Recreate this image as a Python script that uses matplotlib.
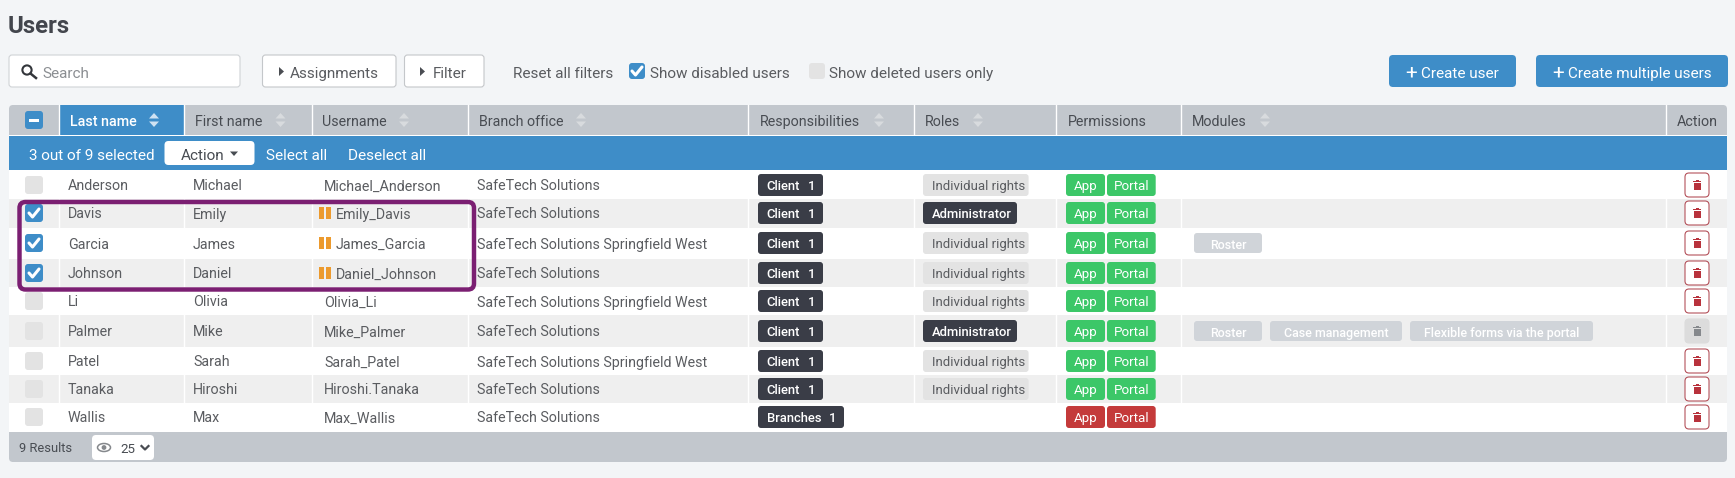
import matplotlib
matplotlib.use("Agg")
import matplotlib.pyplot as plt
from matplotlib.patches import FancyBboxPatch, Rectangle, Circle, Polygon, Ellipse

plt.rcParams["font.family"] = ["Roboto", "DejaVu Sans"]

# table content
headers = ["Last name", "First name", "Username", "Branch office", "Responsibilities",
           "Roles", "Permissions", "Modules", "Action"]
last_names = ["Anderson", "Davis", "Garcia", "Johnson", "Li", "Palmer", "Patel", "Tanaka", "Wallis"]
first_names = ["Michael", "Emily", "James", "Daniel", "Olivia", "Mike", "Sarah", "Hiroshi", "Max"]
usernames = ["Michael_Anderson", "Emily_Davis", "James_Garcia", "Daniel_Johnson", "Olivia_Li",
             "Mike_Palmer", "Sarah_Patel", "Hiroshi.Tanaka", "Max_Wallis"]
west = "SafeTech Solutions Springfield West"
plain = "SafeTech Solutions"
branches = [plain, plain, west, plain, west, plain, west, plain, plain]
responsibilities = ["Client"] * 8 + ["Branches"]
resp_counts = ["1"] * 9
rights = "Individual rights"
roles = [rights, "Administrator", rights, rights, rights, "Administrator", rights, rights, ""]
selected = [False, True, True, True, False, False, False, False, False]
blocked = [False, False, False, False, False, False, False, False, True]
locked = [False, False, False, False, False, True, False, False, False]
modules = [[], [], ["Roster"], [], [], ["Roster", "Case management", "Flexible forms via the portal"],
           [], [], []]

# layout in pixels
W, H = 1735, 478
col_seps = [59, 184, 311.5, 467.7, 748, 914, 1056, 1181, 1666]
header_x = [70, 195, 322, 479, 760, 924.5, 1068, 1192, 1676.5]
sort_x = [154, 280.5, 404, 581, 879, 978, None, 1265, None]
row_edges = [170, 199, 227.5, 259, 287, 315, 347, 375, 403, 432]
row_mid = [185, 213, 243, 273, 301, 331, 361, 389, 417]
module_spans = {"Roster": (1194, 1262), "Case management": (1270, 1402),
                "Flexible forms via the portal": (1410, 1593)}

BG = "#f3f5f7"
GREY = "#c2c7cd"
BLUE = "#3e8dc8"
ALT = "#efefef"
TXT = "#5a5c60"
HEAD = "#484c52"
DARK = "#3a3d47"
LIGHT = "#e3e3e3"
GREEN = "#3cc768"
RED = "#c43a3a"
FS = 10.25
FS_TOP = 11
FS_BADGE = 9.4

fig = plt.figure(figsize=(W / 100, H / 100), dpi=100, facecolor=BG)
ax = fig.add_axes([0, 0, 1, 1])
ax.set_xlim(0, W)
ax.set_ylim(H, 0)
ax.axis("off")


def rbox(x0, y0, x1, y1, fc, ec="none", r=3, lw=1.0, z=2):
    ax.add_patch(FancyBboxPatch((x0, y0), x1 - x0, y1 - y0, boxstyle=f"round,pad=0,rounding_size={r}",
                                fc=fc, ec=ec, lw=lw, zorder=z))


def rect(x0, y0, x1, y1, fc, z=1):
    ax.add_patch(Rectangle((x0, y0), x1 - x0, y1 - y0, fc=fc, ec="none", zorder=z))


def label(x, y, s, color=TXT, size=FS, ha="left", weight="normal"):
    ax.text(x, y, s, color=color, fontsize=size, ha=ha, va="center_baseline", fontweight=weight, zorder=6)


def sort_icon(x, y, color):
    ax.add_patch(Polygon([(x - 5, y - 1.5), (x + 5, y - 1.5), (x, y - 7)], fc=color, ec="none", zorder=5))
    ax.add_patch(Polygon([(x - 5, y + 1.5), (x + 5, y + 1.5), (x, y + 7)], fc=color, ec="none", zorder=5))


def checkbox(x0, x1, y, state):
    hh = (x1 - x0) / 2
    rbox(x0, y - hh, x1, y + hh, BLUE if state else LIGHT, r=3, z=4)
    if state:
        cx = (x0 + x1) / 2
        ax.plot([cx - 5, cx - 1.5, cx + 5], [y, y + 4, y - 4], color="white", lw=2.2, zorder=5,
                solid_capstyle="round")


def trash(y, active):
    edge = "#b4525b" if active else "#dcdcdc"
    col = "#b8323c" if active else "#85888c"
    rbox(1685, y - 12, 1709, y + 12, "white" if active else "#dcdcdc", ec=edge, r=4, lw=0.8, z=3)
    rect(1693.5, y - 2.5, 1700.5, y + 4.5, col, z=5)
    rect(1693, y - 4, 1701, y - 3, col, z=5)
    rect(1695.5, y - 5, 1698.5, y - 3.5, col, z=5)


# top bar
label(8, 24, "Users", color="#43464d", size=17.3, weight="bold")

rbox(9, 55, 240, 87, "white", ec="#d0d3d6", lw=0.8)
ax.add_patch(Circle((27, 70), 4.6, fc="none", ec="#33363b", lw=1.5, zorder=5))
ax.plot([30.5, 36], [73.5, 78], color="#33363b", lw=1.8, zorder=5)
label(42, 72, "Search", color="#8b8e92", size=FS_TOP)

rbox(262.5, 55, 396, 87, "white", ec="#c4c7ca", lw=0.8)
ax.add_patch(Polygon([(279, 67), (279, 76), (284, 71.5)], fc="#4a4d52", ec="none", zorder=5))
label(290, 72, "Assignments", size=FS_TOP)
rbox(404.5, 55, 484, 87, "white", ec="#c4c7ca", lw=0.8)
ax.add_patch(Polygon([(420, 67), (420, 76), (425, 71.5)], fc="#4a4d52", ec="none", zorder=5))
label(433, 72, "Filter", size=FS_TOP)

label(513, 72, "Reset all filters", size=FS_TOP)
checkbox(629, 645, 71, True)
label(650, 72, "Show disabled users", size=FS_TOP)
checkbox(809, 825, 71, False)
label(829, 72, "Show deleted users only", size=FS_TOP)

rbox(1389, 55, 1516, 87, BLUE, r=4)
label(1405, 71, "+", color="white", size=15)
label(1421, 72, "Create user", color="white", size=FS_TOP)
rbox(1536, 55, 1728, 87, BLUE, r=4)
label(1552, 71, "+", color="white", size=15)
label(1568, 72, "Create multiple users", color="white", size=FS_TOP)

# header and footer
rbox(9, 105, 1727, 140, GREY, r=4, z=1)
rbox(9, 425, 1727, 462, GREY, r=4, z=1)
rect(59, 105, 184, 135, BLUE, z=2)
for x in col_seps:
    ax.plot([x, x], [105, 135], color="white", lw=1, zorder=3)
rect(9, 135, 1727, 136, "white", z=3)
rect(9, 136, 1727, 170, BLUE, z=3)

rbox(25, 111, 43, 129, BLUE, r=3, z=4)
rect(29, 119, 39, 121.5, "white", z=5)
for i, name in enumerate(headers):
    if i == 0:
        label(header_x[i], 120, name, color="white", weight="medium")
    else:
        label(header_x[i], 120, name, color=HEAD)
    if sort_x[i] is not None:
        sort_icon(sort_x[i], 120, "#d8dbde" if i else "#cfe2f2")

# action bar
label(29, 154, "3 out of 9 selected", color="white", size=FS_TOP)
rbox(164.5, 141, 254.5, 165, "white", r=4, z=4)
label(181, 154, "Action", color=HEAD, size=FS_TOP)
ax.add_patch(Polygon([(230, 151.5), (238, 151.5), (234, 156)], fc=HEAD, ec="none", zorder=5))
label(265.6, 154, "Select all", color="white", size=FS_TOP)
label(347.5, 154, "Deselect all", color="white", size=FS_TOP)

# rows
for i in range(9):
    top, bot = row_edges[i], row_edges[i + 1]
    y = row_mid[i]
    rect(9, top, 1727, bot, ALT if i % 2 else "white", z=2)
    if i % 2:
        for x in col_seps:
            ax.plot([x, x], [top, bot], color="white", lw=1, zorder=3)

    checkbox(25, 43, y, selected[i])
    label(68, y, last_names[i])
    label(193, y, first_names[i])
    if selected[i]:
        rect(319, y - 6, 323.5, y + 6, "#ec9a2e", z=5)
        rect(326, y - 6, 331, y + 6, "#ec9a2e", z=5)
        label(336, y, usernames[i])
    else:
        label(324, y, usernames[i])
    label(477, y, branches[i])

    # responsibility badge
    resp_end = 844 if responsibilities[i] == "Branches" else 823
    rbox(758, y - 11, resp_end, y + 11, DARK, z=4)
    label(766.5, y, responsibilities[i], color="white", size=FS_BADGE, weight="medium")
    label(resp_end - 11, y, resp_counts[i], color="white", size=FS_BADGE, ha="center", weight="medium")

    # role badge
    if roles[i] == rights:
        rbox(923, y - 11, 1028.6, y + 11, LIGHT, z=4)
        label(932, y, roles[i], size=FS_BADGE + 0.1)
    elif roles[i]:
        rbox(923, y - 11, 1017, y + 11, DARK, z=4)
        label(932, y, roles[i], color="white", size=FS_BADGE, weight="medium")

    # permissions
    col = RED if blocked[i] else GREEN
    rbox(1066, y - 11, 1105, y + 11, col, z=4)
    rbox(1107, y - 11, 1155.7, y + 11, col, z=4)
    label(1085.5, y, "App", color="white", size=FS_BADGE + 0.2, ha="center")
    label(1131.3, y, "Portal", color="white", size=FS_BADGE + 0.2, ha="center")

    # modules
    for m in modules[i]:
        x0, x1 = module_spans[m]
        rbox(x0, y - 10, x1, y + 10, "#d0d4d9", z=4)
        label((x0 + x1) / 2, y + 1, m, color="white", size=9.0, ha="center", weight="medium")

    trash(y, not locked[i])

# purple selection frame
rbox(19.5, 202, 474, 289.5, "none", ec="#7b1f72", r=6, lw=3.2, z=7)

# footer
label(19, 447, "9 Results", color=HEAD, size=9.3)
rbox(92, 435, 154, 460, "white", r=4, z=4)
ax.add_patch(Ellipse((104, 447.5), 13, 8, fc="none", ec="#85888c", lw=1.1, zorder=5))
ax.add_patch(Circle((104, 447.5), 2.4, fc="#85888c", ec="none", zorder=5))
label(120, 448, "25", color=HEAD, size=9.6)
ax.plot([141.5, 145, 148.5], [446, 449.5, 446], color=HEAD, lw=1.6, zorder=5)

fig.savefig("out.png", dpi=100, facecolor=BG)
